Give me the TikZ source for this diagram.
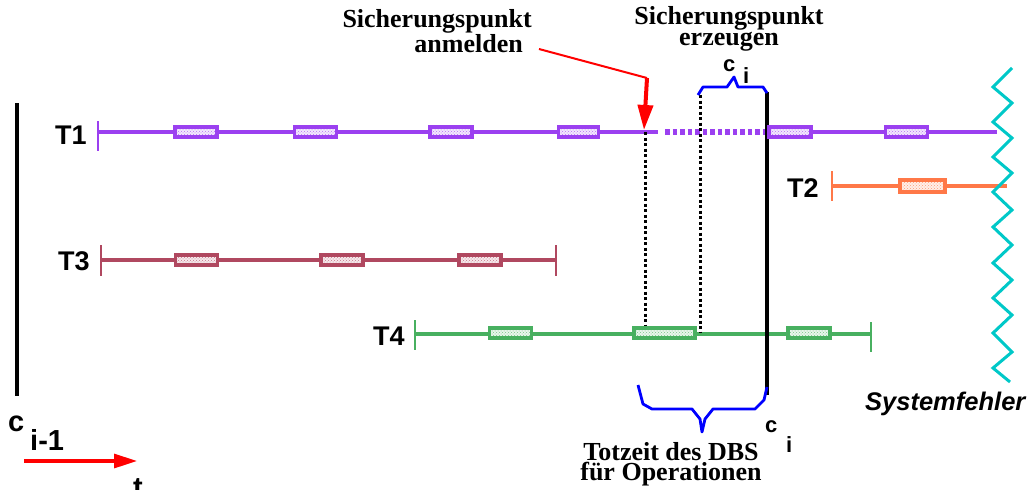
\documentclass[tikz,border=0pt]{standalone}
\usepackage{fontspec}
\setmainfont{Liberation Serif}
\setsansfont{Liberation Sans}
\usetikzlibrary{arrows.meta,patterns}
\definecolor{cTa}{RGB}{155,64,240}
\definecolor{cTb}{RGB}{255,120,72}
\definecolor{cTc}{RGB}{176,72,96}
\definecolor{cTd}{RGB}{72,176,96}
\definecolor{cSys}{RGB}{0,200,200}
\begin{document}
\begin{tikzpicture}[x=1pt,y=-1pt,
  tline/.style={line width=4pt},
  ttick/.style={line width=2.8pt},
  opbox/.style={rectangle, draw=#1, line width=3.6pt, minimum width=42pt, minimum height=10pt, inner sep=0pt,
    preaction={fill=#1!12}, pattern=crosshatch dots, pattern color=#1!75},
  tlabel/.style={font=\sffamily\bfseries\fontsize{27}{27}\selectfont, inner sep=0pt},
  clabel/.style={font=\sffamily\bfseries\fontsize{22}{22}\selectfont, inner sep=0pt},
  cbig/.style={font=\sffamily\bfseries\fontsize{29}{29}\selectfont, inner sep=0pt},
  sertext/.style={font=\rmfamily\bfseries\fontsize{26}{19}\selectfont, inner sep=0pt},
  brace/.style={blue, line width=2.8pt, line join=round},
  blk/.style={black, line width=3.2pt},
  dotline/.style={black, line width=3pt, dash pattern=on 3pt off 2.5pt},
]
\useasboundingbox (0,0) rectangle (1031,490);

% left checkpoint line c_{i-1}
\draw[blk] (17,103) -- (17,396);
\node[cbig, anchor=base west] (cim) at (8,431) {c};
\node[cbig, anchor=base west] (cimsub) at (30,450) {i-1};

% time arrow
\coordinate (ts) at (24,461);
\coordinate (te) at (137,461);
\draw[red, line width=3.2pt, -{Triangle[length=23pt,width=14pt]}] (ts) -- (te);
\node[cbig, anchor=base west] (tlab) at (133,497) {t};

% T1
\node[tlabel, anchor=base west] (l1) at (55,144) {T1};
\draw[cTa, ttick] (98,121) -- (98,151);
\draw[cTa, tline] (98,132) -- (658,132);
\draw[cTa, line width=6pt, dash pattern=on 4.5pt off 3pt] (665,132) -- (767,132);
\draw[cTa, tline] (767,132) -- (997,132);

% T2
\node[tlabel, anchor=base west] (l2) at (787,197) {T2};
\draw[cTb, ttick] (832,171) -- (832,201);
\draw[cTb, tline] (832,186) -- (1007,186);

% T3
\node[tlabel, anchor=base west] (l3) at (58,270) {T3};
\draw[cTc, ttick] (101,245) -- (101,276);
\draw[cTc, tline] (101,260) -- (556,260);
\draw[cTc, ttick] (556,245) -- (556,276);

% T4
\node[tlabel, anchor=base west] (l4) at (373,345) {T4};
\draw[cTd, ttick] (415,320) -- (415,350);
\draw[cTd, tline] (415,334) -- (871,334);
\draw[cTd, ttick] (871,322) -- (871,352);

% dotted and solid checkpoint lines
\draw[dotline] (645,132) -- (645,326);
\draw[dotline] (700,95) -- (700,333);
\draw[blk] (767,92) -- (767,395);

% operation boxes
\node[opbox=cTa] (a1) at (196,132) {};
\node[opbox=cTa] (a2) at (315.5,132) {};
\node[opbox=cTa] (a3) at (451,132) {};
\node[opbox=cTa, minimum width=40pt] (a4) at (578.5,132) {};
\node[opbox=cTa] (a5) at (790,132) {};
\node[opbox=cTa] (a6) at (906.5,132) {};
\node[opbox=cTb, minimum width=45pt, minimum height=12pt] (b1) at (922.5,186) {};
\node[opbox=cTc] (c1) at (196.5,260) {};
\node[opbox=cTc] (c2) at (342,260) {};
\node[opbox=cTc] (c3) at (480,260) {};
\node[opbox=cTd] (d1) at (510.5,333) {};
\node[opbox=cTd, minimum width=61pt] (d2) at (664.5,333) {};
\node[opbox=cTd] (d3) at (809,333) {};

% system failure zigzag
\draw[cSys, line width=3pt, line join=miter]
  (1012,68) -- (993,87) -- (1012,103) -- (993,122) -- (1012,138) -- (993,157)
  -- (1012,173) -- (993,192) -- (1012,210) -- (993,227) -- (1012,245) -- (993,263)
  -- (1012,280) -- (993,298) -- (1012,315) -- (993,333) -- (1012,352) -- (993,368)
  -- (1010,382);
\node[font=\sffamily\bfseries\itshape\fontsize{25.5}{25.5}\selectfont, inner sep=0pt, anchor=base west] (sys) at (865,410) {Systemfehler};

% Sicherungspunkt anmelden
\node[sertext, align=right, anchor=base east] (anm) at (532,52) {Sicherungspunkt\\anmelden\hspace*{9pt}};
\coordinate (ra) at (539,49);
\coordinate (rb) at (647,78);
\coordinate (rc) at (644,130);
\draw[red, line width=2pt] (ra) -- (rb);
\draw[red, line width=4pt, -{Triangle[length=25pt,width=15pt]}] (rb) -- (rc);

% Sicherungspunkt erzeugen
\node[sertext, font=\rmfamily\bfseries\fontsize{26}{18}\selectfont, align=center, anchor=base] (erz) at (729,45) {Sicherungspunkt\\erzeugen};
\draw[brace] (698,95) -- (703,87) -- (727,87) -- (734,77) -- (738,87) -- (763,87) -- (767,93);
\node[clabel, anchor=base west] (cu) at (723,71) {c};
\node[clabel, anchor=base west] (cusub) at (743,83) {i};

% Totzeit brace
\draw[brace] (638,385) -- (643,404) -- (652,409) -- (692,409) -- (700,419) -- (702,432)
  -- (705,419) -- (713,409) -- (755,409) -- (764,400) -- (767,387);
\node[clabel, anchor=base west] (cl) at (765,432) {c};
\node[clabel, anchor=base west] (clsub) at (786,452) {i};
\node[sertext, font=\rmfamily\bfseries\fontsize{26}{20}\selectfont, align=center, anchor=base] (tot) at (671,480) {Totzeit des DBS\\für Operationen};
\end{tikzpicture}
\end{document}
